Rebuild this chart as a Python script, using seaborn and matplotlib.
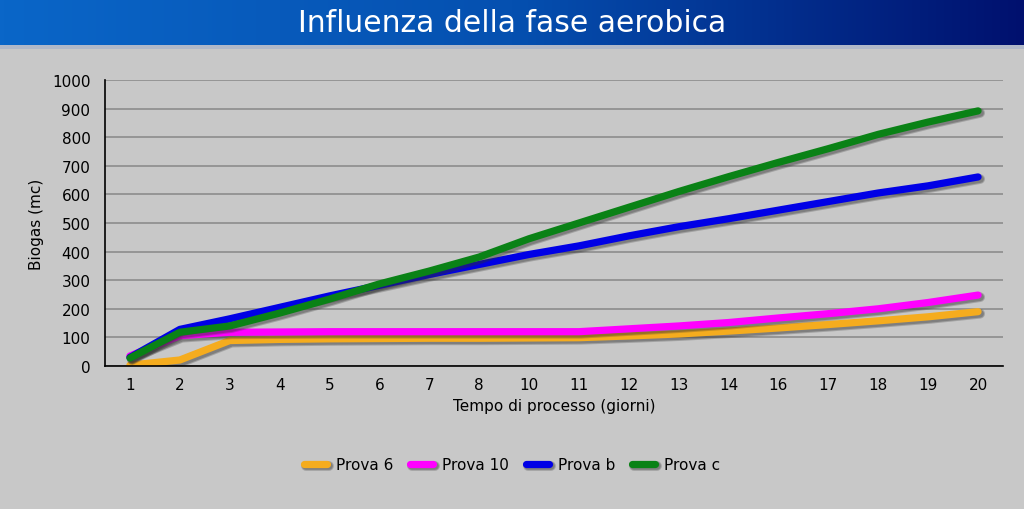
import numpy as np
import pandas as pd
import seaborn as sns
import matplotlib.pyplot as plt
import matplotlib.patheffects as pe

# Data
giorni = ['1', '2', '3', '4', '5', '6', '7', '8', '10', '11',
          '12', '13', '14', '16', '17', '18', '19', '20']
prova_6 = [3, 21, 89, 93, 95, 96, 97, 97, 98, 99,
           105, 112, 122, 133, 145, 158, 172, 190]
prova_10 = [35, 106, 118, 119, 120, 120, 120, 120, 120, 120,
            130, 140, 152, 168, 183, 200, 222, 248]
prova_b = [30, 128, 165, 205, 245, 282, 320, 355, 390, 420,
           455, 487, 515, 545, 575, 605, 630, 661]
prova_c = [28, 118, 140, 185, 234, 287, 332, 381, 445, 500,
           555, 610, 662, 712, 760, 810, 853, 892]
series = ['Prova 6', 'Prova 10', 'Prova b', 'Prova c']
colors = ['#f5ac1e', '#ff00ff', '#0000e6', '#0a8216']

rows = []
for name, vals in zip(series, [prova_6, prova_10, prova_b, prova_c]):
    for i, v in enumerate(vals):
        rows.append({'pos': i, 'serie': name, 'biogas': v})
df = pd.DataFrame(rows)

sns.set_style('white')
plt.rcParams['font.family'] = ['DejaVu Sans']
plt.rcParams['text.color'] = 'black'
plt.rcParams['axes.labelcolor'] = 'black'
plt.rcParams['xtick.color'] = 'black'
plt.rcParams['ytick.color'] = 'black'
bg = '#c8c8c8'


def shadow():
    # soft drop shadow like the original chart
    return [pe.SimpleLineShadow(offset=(1.5, -1.5), shadow_color='#303030', alpha=0.25, linewidth=7),
            pe.SimpleLineShadow(offset=(1.5, -1.5), shadow_color='#303030', alpha=0.3, linewidth=5.5),
            pe.Normal()]


fig = plt.figure(figsize=(10.24, 5.10), dpi=100, facecolor=bg)

# title bar with gradient
tax = fig.add_axes([0, 1 - 46 / 510, 1, 46 / 510])
grad = np.linspace(0, 1, 256).reshape(1, -1)
cmap = plt.matplotlib.colors.LinearSegmentedColormap.from_list(
    'bar', ['#0a66c8', '#0550b0', '#00106e'])
tax.imshow(grad, aspect='auto', cmap=cmap, extent=[0, 1, 0, 1])
tax.set_axis_off()
tax.text(0.5, 0.5, 'Influenza della fase aerobica', color='white',
         fontsize=21.5, ha='center', va='center', transform=tax.transAxes)
sep = fig.add_axes([0, 1 - 50 / 510, 1, 4 / 510])
sep.set_axis_off()
sep.add_patch(plt.Rectangle((0, 0), 1, 1, color='#b0b8c8', transform=sep.transAxes))

ax = fig.add_axes([105 / 1024, (510 - 367) / 510, 898 / 1024, 286 / 510])
ax.set_facecolor(bg)
sns.lineplot(data=df, x='pos', y='biogas', hue='serie', palette=colors,
             linewidth=5.2, ax=ax, legend=False)
for line in ax.get_lines():
    line.set_solid_capstyle('round')
    line.set_solid_joinstyle('round')
    line.set_path_effects(shadow())

ax.set_xlim(-0.5, len(giorni) - 0.5)
ax.set_ylim(0, 1000)
ax.set_yticks(range(0, 1001, 100))
ax.set_xticks(range(len(giorni)))
ax.set_xticklabels(giorni)
ax.set_xticks(np.arange(-0.5, len(giorni), 1), minor=True)
ax.tick_params(axis='x', which='major', length=0, labelsize=11, pad=8)
ax.tick_params(axis='x', which='minor', length=7, width=1, color='black', direction='out')
ax.tick_params(axis='y', length=7, width=1, color='black', labelsize=11, direction='out')
ax.yaxis.grid(True, color='#8c8c8c', linewidth=1.2)
ax.set_axisbelow(True)
for s in ['top', 'right']:
    ax.spines[s].set_visible(False)
for s in ['left', 'bottom']:
    ax.spines[s].set_color('black')
    ax.spines[s].set_linewidth(1.2)
ax.set_xlabel('Tempo di processo (giorni)', fontsize=11, labelpad=4)
ax.set_ylabel('Biogas (mc)', fontsize=11, labelpad=6)

handles = [plt.Line2D([0], [0], color=c, linewidth=5.2, solid_capstyle='round',
                      path_effects=shadow())
           for c in colors]
fig.legend(handles, series, loc='center', bbox_to_anchor=(0.5, 1 - 466 / 510), ncol=4,
           frameon=False, fontsize=11, handlelength=1.5, columnspacing=1.1, handletextpad=0.6)

fig.savefig('out.png', dpi=100, facecolor=bg)
